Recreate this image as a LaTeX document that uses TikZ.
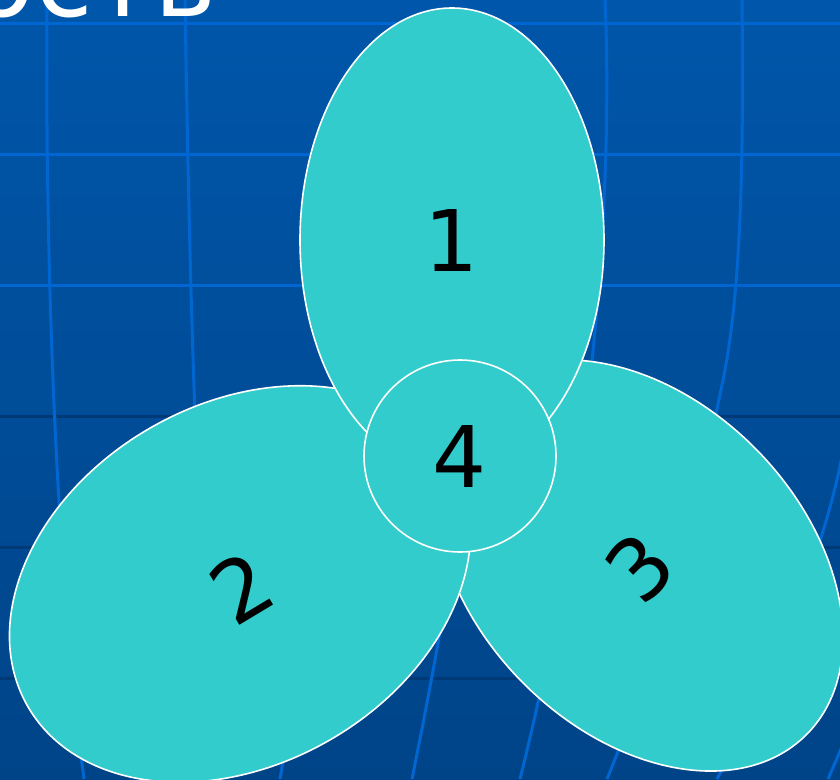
\documentclass[tikz,border=0pt]{standalone}
\usepackage{fontspec}
\setmainfont{DejaVu Sans}
\usetikzlibrary{shapes.geometric}
\definecolor{bgtop}{RGB}{0,86,170}
\definecolor{bgbot}{RGB}{0,68,136}
\definecolor{gridlight}{RGB}{0,102,210}
\definecolor{griddark}{RGB}{0,58,118}
\definecolor{petal}{RGB}{51,204,204}
\tikzset{
  petalshape/.style={ellipse, draw=white, line width=1.6pt, fill=petal, inner sep=0pt, outer sep=0pt},
  hubshape/.style={circle, draw=white, line width=1.6pt, fill=petal, inner sep=0pt, outer sep=0pt},
  numlabel/.style={text=black, font=\fontsize{85}{100}\selectfont, inner sep=0pt},
  meridian/.style={draw=gridlight, line width=3pt},
  parlight/.style={draw=gridlight, line width=3pt},
  pardark/.style={draw=griddark, line width=3pt},
}
\begin{document}
\begin{tikzpicture}[x=1pt, y=-1pt]
\useasboundingbox (0,0) rectangle (840,779);
\clip (0,0) rectangle (840,779);
% background
\shade[top color=bgtop, bottom color=bgbot] (0,0) rectangle (840,779);
% parallels
\foreach \yy in {23,154,285} \draw[parlight] (0,\yy) -- (840,\yy);
\foreach \yy in {416,547,678} \draw[pardark] (0,\yy) -- (840,\yy);
% meridians
\draw[meridian] (47,0) .. controls (45,250) and (55,560) .. (84,779);
\draw[meridian] (185,0) .. controls (190,300) and (195,500) .. (215,779);
\draw[meridian] (400,120) .. controls (360,400) and (310,600) .. (280,779);
\draw[meridian] (478,300) .. controls (470,480) and (440,640) .. (412,779);
\draw[meridian] (605,0) .. controls (614,200) and (590,500) .. (520,779);
\draw[meridian] (742,0) .. controls (744,180) and (740,300) .. (722,385) .. controls (690,540) and (640,700) .. (607,779);
\draw[meridian] (845,440) .. controls (825,560) and (760,700) .. (717,779);
\draw[meridian] (860,700) .. controls (845,740) .. (828,779);
% title fragment
\node[anchor=base east, text=white, font=\fontsize{105}{120}\selectfont, inner sep=0pt] (title) at (216,16.5) {ость};
% petals
\node[petalshape, minimum width=476pt, minimum height=330pt, rotate=-45.6] (e3) at (639,565.5) {};
\node[petalshape, minimum width=490pt, minimum height=360pt, rotate=30] (e2) at (240,584) {};
\node[petalshape, minimum width=304pt, minimum height=464pt] (e1) at (452,240) {};
\node[hubshape, minimum size=192pt] (e4) at (460,456) {};
% labels
\node[numlabel] (l1) at (452,241) {1};
\node[numlabel, rotate=31] (l2) at (241,588) {2};
\node[numlabel, rotate=45] (l3) at (640,567) {3};
\node[numlabel] (l4) at (460,457) {4};
\end{tikzpicture}
\end{document}
